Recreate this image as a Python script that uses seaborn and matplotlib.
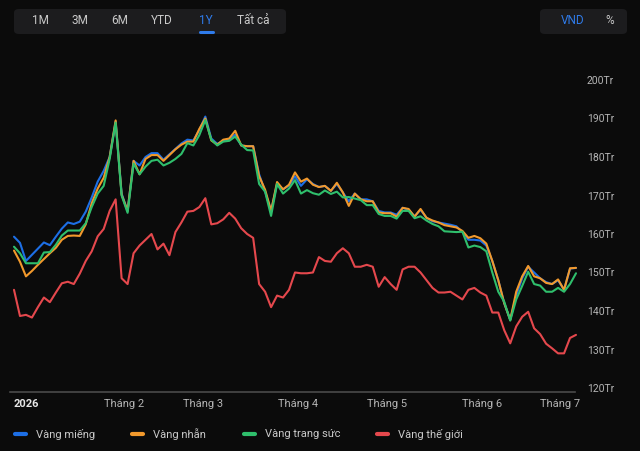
import matplotlib
matplotlib.use('Agg')
import numpy as np
import pandas as pd
import matplotlib.pyplot as plt
import seaborn as sns
from matplotlib.patches import FancyBboxPatch
from matplotlib.lines import Line2D

# Giá vàng (triệu đồng / lượng), một điểm cho mỗi phiên
vang_mieng = [159.3, 157.7, 153.0, 154.6, 156.2, 157.8, 157.1, 159.3, 161.4, 163.0,
              162.6, 163.2, 165.8, 169.5, 173.6, 176.4, 180.0, 189.2, 170.5, 166.0,
              179.0, 177.8, 180.0, 181.0, 181.0, 179.3, 180.7, 182.1, 183.5, 184.5,
              184.3, 187.0, 190.5, 184.8, 183.4, 184.2, 184.5, 185.8, 183.0, 182.8,
              182.8, 175.5, 171.0, 166.0, 173.0, 171.6, 172.6, 175.0, 172.5, 174.2,
              173.0, 172.2, 172.5, 171.2, 173.0, 170.8, 168.5, 170.5, 169.0, 169.0,
              168.5, 166.0, 165.6, 165.6, 165.0, 166.8, 166.3, 164.6, 166.3, 164.2,
              163.3, 163.0, 162.7, 162.4, 162.0, 160.5, 158.5, 158.5, 158.3, 157.0,
              153.0, 148.0, 142.0, 137.7, 144.0, 148.5, 151.5, 150.0, 148.5, 147.5,
              147.0, 148.0, 145.5, 151.0, 151.2]
vang_nhan = [155.7, 152.8, 149.0, 150.4, 152.0, 153.5, 155.0, 156.4, 158.5, 159.5,
             159.6, 159.5, 162.5, 168.0, 171.8, 174.6, 180.0, 189.5, 170.2, 166.0,
             179.0, 175.5, 179.5, 180.5, 180.5, 179.0, 180.5, 182.0, 183.2, 184.0,
             184.0, 187.3, 190.0, 184.3, 183.2, 184.5, 184.8, 186.8, 183.0, 182.8,
             182.8, 175.0, 171.5, 166.0, 173.5, 171.6, 172.8, 176.0, 173.6, 174.4,
             172.8, 172.2, 172.5, 171.2, 173.3, 170.8, 167.3, 170.5, 169.0, 168.5,
             168.5, 165.6, 165.4, 165.4, 164.5, 166.8, 166.5, 164.5, 166.5, 164.2,
             163.5, 163.0, 162.3, 162.0, 161.7, 160.8, 159.0, 159.5, 158.9, 157.5,
             153.0, 148.0, 142.0, 137.7, 145.0, 149.0, 151.7, 149.0, 148.5, 147.3,
             147.0, 148.2, 145.5, 151.1, 151.2]
vang_trang_suc = [156.7, 155.0, 152.4, 152.4, 152.4, 155.2, 155.3, 157.2, 159.6, 160.9,
                  160.9, 160.9, 162.8, 167.0, 170.5, 172.5, 179.5, 188.9, 170.0, 165.5,
                  178.3, 175.5, 177.5, 179.0, 179.3, 177.8, 178.5, 179.5, 180.8, 183.6,
                  183.0, 185.7, 189.6, 184.5, 183.0, 184.0, 184.2, 185.3, 183.2, 181.8,
                  181.7, 173.0, 171.0, 164.7, 173.0, 170.5, 171.8, 174.0, 170.5, 171.4,
                  170.6, 170.2, 171.3, 170.4, 171.0, 169.5, 169.6, 169.2, 168.8, 167.5,
                  167.5, 165.2, 164.7, 164.7, 164.0, 166.0, 166.0, 164.1, 164.6, 163.5,
                  162.6, 162.0, 160.7, 160.6, 160.5, 160.6, 156.5, 157.0, 156.6, 155.5,
                  150.0, 145.0, 142.4, 137.5, 143.0, 146.5, 150.2, 147.0, 146.6, 145.0,
                  145.0, 146.0, 145.0, 147.0, 149.8]
vang_the_gioi = [145.5, 138.7, 139.0, 138.3, 141.0, 143.5, 142.3, 144.8, 147.2, 147.6,
                 147.0, 149.7, 153.0, 155.5, 159.4, 161.3, 166.0, 169.0, 148.5, 147.0,
                 155.0, 157.0, 158.5, 160.0, 156.0, 157.5, 154.5, 160.5, 163.0, 165.8,
                 166.0, 167.0, 169.3, 162.5, 162.8, 163.8, 165.5, 164.0, 161.5, 160.0,
                 159.0, 147.0, 145.0, 141.0, 144.0, 143.5, 145.5, 150.0, 149.8, 149.8,
                 150.0, 154.0, 153.0, 152.8, 155.0, 156.3, 155.0, 151.5, 151.5, 152.0,
                 151.5, 146.3, 148.8, 147.0, 145.5, 150.8, 151.5, 151.5, 150.0, 148.0,
                 146.0, 144.8, 144.8, 145.0, 144.0, 143.0, 145.5, 146.0, 144.8, 144.0,
                 139.6, 139.6, 135.0, 131.6, 136.0, 138.5, 139.8, 135.5, 134.0, 131.5,
                 130.3, 129.0, 129.0, 133.0, 133.8]

series_names = ['Vàng miếng', 'Vàng nhẫn', 'Vàng trang sức', 'Vàng thế giới']
series_colors = ['#1d6fe6', '#f2992c', '#2fbf6c', '#e5484d']

# Nhãn trục x (vị trí theo chỉ số phiên) và trục y
month_labels = ['2026', 'Tháng 2', 'Tháng 3', 'Tháng 4', 'Tháng 5', 'Tháng 6', 'Tháng 7']
month_pos = [0, 18.4, 31.6, 47.5, 62.4, 78.3, 91.3]
y_ticks = [120, 130, 140, 150, 160, 170, 180, 190, 200]
range_buttons = ['1M', '3M', '6M', 'YTD', '1Y', 'Tất cả']

# Long-form table for seaborn
n = len(vang_mieng)
df = pd.DataFrame({
    'phien': np.tile(np.arange(n), 4),
    'gia': vang_mieng + vang_nhan + vang_trang_suc + vang_the_gioi,
    'loai': np.repeat(series_names, n),
})

bg = '#0b0b0b'
sns.set_style('dark', {'axes.facecolor': bg, 'figure.facecolor': bg})
plt.rcParams['font.family'] = ['Roboto', 'DejaVu Sans']

W, H = 640, 451
fig = plt.figure(figsize=(W / 100, H / 100), dpi=100)
fig.patch.set_facecolor(bg)

# axes spans pixels 10..580 horizontally, 60..392 vertically
ax = fig.add_axes([10 / W, 1 - 392 / H, 570 / W, 332 / H])
ax.set_facecolor(bg)

sns.lineplot(data=df, x='phien', y='gia', hue='loai', palette=series_colors,
             hue_order=series_names, linewidth=1.5, legend=False, ax=ax)

step = 562 / (n - 1)
ax.set_xlim(-4 / step, (n - 1) + 4 / step)
ax.set_ylim(120 - 4 / 3.85, 200 + 20 / 3.85)

for s in ['top', 'left', 'right']:
    ax.spines[s].set_visible(False)
ax.spines['bottom'].set_color('#4a4a4a')
ax.spines['bottom'].set_linewidth(1.2)
ax.spines['bottom'].set_bounds(-4 / step, (n - 1) - 1 / step)
ax.grid(False)

ax.yaxis.tick_right()
ax.set_yticks(y_ticks)
ax.set_yticklabels([f'{v}Tr' for v in y_ticks], color='#b5b5b5', fontsize=7.5)
ax.tick_params(axis='y', length=0, pad=5)

ax.set_xticks(month_pos)
ax.set_xticklabels(month_labels, color='#b5b5b5', fontsize=8)
ax.tick_params(axis='x', length=0, pad=5)
first = ax.get_xticklabels()[0]
first.set_ha('left')
first.set_fontweight('bold')
first.set_color('#e6e6e6')
ax.set_xlabel('')
ax.set_ylabel('')


def fx(x):
    return x / W


def fy(y):
    return 1 - y / H


# Range selector bar
fig.patches.append(FancyBboxPatch((fx(14), fy(34)), fx(272), 25 / H,
                                  boxstyle='round,pad=0,rounding_size=0.008',
                                  transform=fig.transFigure, facecolor='#1c1c1e',
                                  edgecolor='none'))
btn_x = [40, 80, 120, 162, 206, 253]
for label, bx in zip(range_buttons, btn_x):
    color = '#2f7bea' if label == '1Y' else '#c9c9c9'
    fig.text(fx(bx), fy(21), label, ha='center', va='center', fontsize=8.5, color=color)
fig.add_artist(Line2D([fx(200), fx(213)], [fy(31.5), fy(31.5)], transform=fig.transFigure,
                      color='#2f7bea', lw=2.2, solid_capstyle='round'))

# Currency toggle
fig.patches.append(FancyBboxPatch((fx(540), fy(34)), fx(87), 25 / H,
                                  boxstyle='round,pad=0,rounding_size=0.008',
                                  transform=fig.transFigure, facecolor='#1c1c1e',
                                  edgecolor='none'))
fig.text(fx(573), fy(21), 'VND', ha='center', va='center', fontsize=8.5, color='#2f7bea')
fig.text(fx(610), fy(21), '%', ha='center', va='center', fontsize=8.5, color='#c9c9c9')

# Legend
leg_x = [13, 130, 242, 375]
for name, color, lx in zip(series_names, series_colors, leg_x):
    fig.add_artist(Line2D([fx(lx + 2), fx(lx + 13)], [fy(434), fy(434)],
                          transform=fig.transFigure, color=color, lw=3,
                          solid_capstyle='round'))
    fig.text(fx(lx + 23), fy(434), name, ha='left', va='center', fontsize=8,
             color='#c9c9c9')

fig.savefig('out.png', dpi=100, facecolor=bg)
